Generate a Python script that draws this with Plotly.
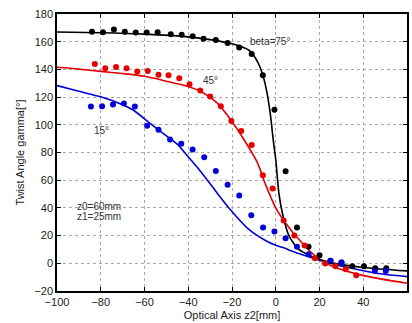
import plotly.graph_objects as go

# measured points
black_x = [-84, -79, -74, -69, -64, -59, -54, -48, -43, -38, -33, -27.4, -22, -16.7, -11, -5.9, -0.6, 4.5, 9.7, 15, 20, 25, 30, 35, 40.3, 45.5, 50.5]
black_y = [167.1, 166.9, 168.8, 167.1, 166.7, 166.7, 166.9, 165.3, 165, 164, 162.1, 161.2, 159, 155.9, 151.1, 135.7, 110.8, 66.4, 25.9, 12, 5.8, 1.9, 0.5, -2.2, -2.2, -3.6, -3.6]

red_x = [-82.7, -77.9, -73, -68.2, -63.3, -58.5, -53.6, -49, -44.1, -39.4, -34.5, -30, -25.1, -20.3, -15.8, -11, -5.9, -1.4, 3.6, 8.5, 13.2, 17.9, 22.6, 27.3, 32, 36.8]
red_y = [143.9, 140.8, 141.7, 140.8, 138.4, 138.8, 136.2, 135.7, 133.6, 129.3, 124.7, 120.4, 113.4, 102.7, 95.5, 85.4, 63.5, 54, 30.9, 20.1, 12.9, 3.6, -0.2, -2.2, -4.3, -8.6]

blue_x = [-84.5, -79.4, -74.4, -69.4, -64.4, -58.8, -53.6, -48.3, -43.2, -38, -32.7, -27.4, -22, -16.7, -11.2, -5.8, -0.6, 4.5, 9.7, 15, 25, 30.1, 45.3, 50.3]
blue_y = [113.2, 113.4, 114.6, 115.3, 113.2, 99.3, 96.4, 89.4, 86.3, 82.2, 76.5, 66.7, 56.8, 48.9, 34.7, 25.9, 23, 18, 12, 6.5, 1.9, 0.5, -5.5, -5.5]

# fitted curves
black_fit_x = [-100, -80, -60, -40, -30, -20, -15, -12, -8, -5.5, -4, -2.5, -1, 0, 1.4, 3, 6, 10.5, 16.5, 25, 40, 60]
black_fit_y = [167, 166.5, 165.5, 163.5, 161.5, 158.5, 156, 153.5, 144.5, 133.5, 123, 108, 87, 75, 51, 36.5, 20, 10, 5, 0.5, -3, -5.5]

red_fit_x = [-100, -90, -80, -70, -60, -50, -42, -34.2, -26.7, -20.6, -14.5, -8.5, -4.7, 0, 4.4, 10.5, 18, 25.6, 40.8, 60]
red_fit_y = [141.5, 140.2, 138.6, 137, 135, 131.5, 128.5, 124, 115.6, 103.6, 89.2, 73, 57, 40, 29.3, 17.3, 5.3, -1.9, -9.1, -14.4]

blue_fit_x = [-100, -90, -80, -70, -65, -57, -50, -45, -41.4, -36, -31, -27.4, -21.4, -12.3, -4.7, 0, 2.9, 10.5, 21, 33.2, 46.8, 60]
blue_fit_y = [128.3, 124.2, 120.2, 114.5, 110.5, 100.5, 92, 86, 79.5, 69.5, 59.5, 52, 40, 24.5, 16.5, 13, 11.5, 7, 1.7, -3.1, -7.4, -9.6]

BLACK = "#000000"
RED = "#e60000"
BLUE = "#0000d8"

fig = go.Figure()
for fx, fy, c in [(blue_fit_x, blue_fit_y, BLUE), (red_fit_x, red_fit_y, RED), (black_fit_x, black_fit_y, BLACK)]:
    fig.add_trace(go.Scatter(x=fx, y=fy, mode="lines", line=dict(color=c, width=1.6, shape="spline", smoothing=0.7), showlegend=False, hoverinfo="skip"))
for px, py, c in [(black_x, black_y, BLACK), (red_x, red_y, RED), (blue_x, blue_y, BLUE)]:
    fig.add_trace(go.Scatter(x=px, y=py, mode="markers", marker=dict(color=c, size=6), showlegend=False))

font = dict(family="Liberation Sans, Arial, sans-serif", size=11, color="#222")
annos = [
    dict(x=-12.7, y=160, text="beta=75°"),
    dict(x=-34, y=132, text="45°"),
    dict(x=-84, y=96, text="15°"),
    dict(x=-92, y=41, text="z0=60mm"),
    dict(x=-92, y=34, text="z1=25mm"),
]
for a in annos:
    fig.add_annotation(x=a["x"], y=a["y"], text=a["text"], showarrow=False, xanchor="left", yanchor="middle",
                       font=dict(family=font["family"], size=10, color="#333"))

axis_common = dict(showline=True, linecolor="black", linewidth=1.5, mirror="ticks", ticks="inside", ticklen=4,
                   tickcolor="black", showgrid=True, gridcolor="#a8a8a8", griddash="dot", gridwidth=1,
                   zeroline=False, tickfont=font)
fig.update_xaxes(range=[-100, 60], tickvals=[-100, -80, -60, -40, -20, 0, 20, 40, 60], **axis_common,
                 title=dict(text="Optical Axis z2[mm]", font=font, standoff=4))
fig.update_yaxes(range=[-20, 180], tickvals=[-20, 0, 20, 40, 60, 80, 100, 120, 140, 160, 180], **axis_common,
                 title=dict(text="Twist Angle gamma[°]", font=font, standoff=8))
fig.update_layout(width=412, height=323, margin=dict(l=57, r=3, t=14, b=31),
                  plot_bgcolor="white", paper_bgcolor="white", font=font)
fig.write_html("out.html")
